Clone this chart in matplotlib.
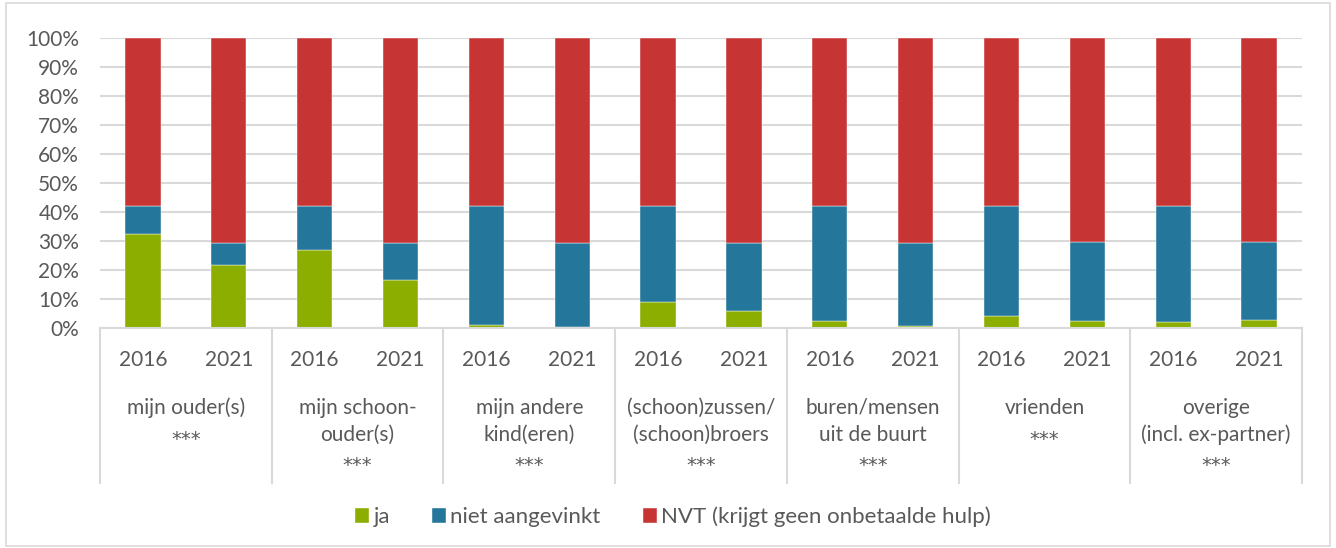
import numpy as np
import matplotlib
matplotlib.use("Agg")
import matplotlib.pyplot as plt
from matplotlib.patches import Rectangle
from matplotlib.transforms import blended_transform_factory

plt.rcParams['font.family'] = ['Lato', 'DejaVu Sans']

years = ["2016", "2021"]
groups = [
    ["mijn ouder(s)", "***"],
    ["mijn schoon-", "ouder(s)", "***"],
    ["mijn andere", "kind(eren)", "***"],
    ["(schoon)zussen/", "(schoon)broers", "***"],
    ["buren/mensen", "uit de buurt", "***"],
    ["vrienden", "***"],
    ["overige", "(incl. ex-partner)", "***"],
]
series_names = ["ja", "niet aangevinkt", "NVT (krijgt geen onbetaalde hulp)"]
ja = [32.3, 21.7, 26.8, 16.4, 1.0, 0.5, 8.9, 5.9, 2.4, 0.8, 4.0, 2.4, 2.0, 2.7]
niet = [9.7, 7.5, 15.2, 12.8, 41.0, 28.7, 33.1, 23.3, 39.6, 28.4, 38.0, 27.1, 40.0, 26.8]
nvt = [58.0, 70.8, 58.0, 70.8, 58.0, 70.8, 58.0, 70.8, 58.0, 70.8, 58.0, 70.5, 58.0, 70.5]
colors = ["#8CAE00", "#24779B", "#C73434"]

W, H = 1336, 548
fig = plt.figure(figsize=(W / 100, H / 100), dpi=100)
ax = fig.add_axes([100 / W, (H - 328) / H, 1202 / W, 290 / H])

x = np.arange(len(ja))
bottom = np.zeros(len(ja))
for vals, c, name in zip([ja, niet, nvt], colors, series_names):
    ax.bar(x, vals, 0.41, bottom=bottom, color=c, label=name,
           edgecolor="white", linewidth=0.3, zorder=3)
    bottom += np.array(vals)

ax.set_xlim(-0.5, len(ja) - 0.5)
ax.set_ylim(0, 100)
ax.set_yticks(np.arange(0, 101, 10))
ax.set_yticklabels([f"{v}%" for v in range(0, 101, 10)])
ax.tick_params(axis="y", length=0, pad=15, labelsize=15, labelcolor="#595959")
ax.set_xticks([])
ax.grid(axis="y", color="#D9D9D9", linewidth=1.5, zorder=0)
for s in ["top", "right", "left"]:
    ax.spines[s].set_visible(False)
ax.spines["bottom"].set_color("#D9D9D9")
ax.spines["bottom"].set_linewidth(1.5)
ax.spines["bottom"].set_zorder(4)

tr = blended_transform_factory(ax.transData, ax.transAxes)
def ay(py):
    return (328 - py) / 290

for b in np.arange(-0.5, len(ja), 2):
    ax.plot([b, b], [0, ay(483)], transform=tr, clip_on=False,
            color="#D9D9D9", linewidth=1.5)

for i in range(len(ja)):
    ax.text(i, ay(360), years[i % 2], transform=tr, ha="center", va="center",
            fontsize=15, color="#595959")

for g, lines in enumerate(groups):
    for k, ln in enumerate(lines):
        if ln == "***":
            ax.text(2 * g + 0.5, ay(412 + 27 * k), ln, transform=tr, ha="center",
                    va="center", fontsize=14, color="#595959", family="DejaVu Sans")
        else:
            ax.text(2 * g + 0.5, ay(408 + 27 * k), ln, transform=tr, ha="center",
                    va="center", fontsize=15, color="#595959")

leg = fig.legend(loc="center", bbox_to_anchor=(673 / W, (H - 517) / H), ncol=3,
                 frameon=False, fontsize=16, handlelength=0.63, handleheight=0.63,
                 handletextpad=0.2, columnspacing=1.9, labelcolor="#595959")

fig.patches.append(Rectangle((6 / W, 2 / H), 1324 / W, 543 / H, transform=fig.transFigure,
                             fill=False, edgecolor="#D9D9D9", linewidth=1.2))

fig.savefig("out.png", dpi=100, facecolor="white")
